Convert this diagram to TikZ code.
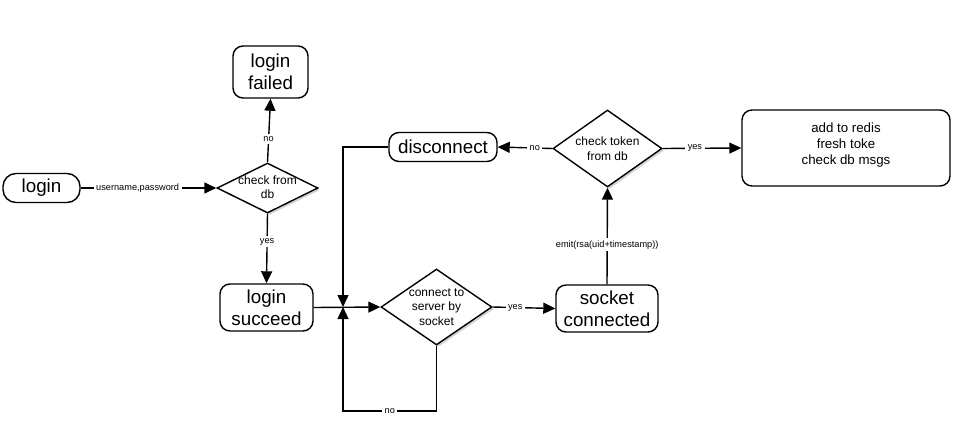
\documentclass[tikz,border=0pt]{standalone}
\usepackage{fontspec}
\setmainfont{Liberation Sans}
\usetikzlibrary{shapes.geometric,arrows.meta,shadows}
\begin{document}
\begin{tikzpicture}[x=1pt,y=-1pt,
 box/.style={draw, line width=1.4pt, rounded corners=10pt, font=\fontsize{18.8}{22}\selectfont, align=center, inner sep=0pt, fill=white},
 dia/.style={draw, diamond, line width=1.4pt, fill=white, drop shadow={opacity=0.35,shadow xshift=2pt,shadow yshift=-2pt}, inner sep=0pt},
 dtext/.style={align=center, font=\fontsize{12}{14.5}\selectfont, inner sep=0pt},
 lab/.style={fill=white, font=\fontsize{9.2}{11}\selectfont, inner sep=2.5pt},
 arr/.style={line width=1.4pt, -{Triangle[length=12pt,width=11pt]}},
 ln/.style={line width=1.4pt}]
\useasboundingbox (0,0) rectangle (963,426);
% nodes
\node[box, minimum width=77pt, minimum height=29pt, rounded corners=13pt] (login) at (41.5,188) {login};
\node[box, minimum width=75pt, minimum height=52pt] (failed) at (270.5,72) {login\\failed};
\node[dia, minimum width=101pt, minimum height=50pt,
  label={[dtext,yshift=1pt]center:check from\\db}] (check) at (267.5,188) {};
\node[box, minimum width=93pt, minimum height=47pt] (succeed) at (266.5,307.5) {login\\succeed};
\node[dia, minimum width=111pt, minimum height=76pt,
  label={[dtext]center:connect to\\server by\\socket}] (connect) at (436.5,307) {};
\node[box, minimum width=102pt, minimum height=47pt] (socket) at (607,308.5) {socket\\connected};
\node[dia, minimum width=109pt, minimum height=77pt,
  label={[dtext]center:check token\\from db}] (token) at (607.5,148.5) {};
\node[box, minimum width=108pt, minimum height=29pt] (disc) at (443,147) {disconnect};
\node[box, minimum width=208pt, minimum height=76pt,
  label={[dtext,anchor=north,yshift=-13pt,font=\fontsize{13.3}{16}\selectfont]north:add to redis\\fresh toke\\check db msgs}] (redis) at (846,148) {};
\coordinate (j) at (343,307);
\coordinate (loopc) at (343,411);
% edges
\draw[arr] (login.east) -- node[lab, pos=0.42]{username,password} (check.west);
\draw[arr] (check.north) -- node[lab, pos=0.36]{no} (failed.south);
\draw[arr] (check.south) -- node[lab, pos=0.4]{yes} (succeed.north);
\draw[arr] (succeed.east) -- (connect.west);
\draw[arr] (disc.west) -| (j);
\draw[arr] (connect.south) |- node[lab, pos=0.75]{no} (loopc) -- (j);
\draw[arr] (connect.east) -- node[lab, pos=0.36]{yes} (socket.west);
\draw[arr] (socket.north) -- node[lab, pos=0.41]{emit(rsa(uid+timestamp))} (token.south);
\draw[arr] (token.west) -- node[lab, pos=0.32]{no} (disc.east);
\draw[arr] (token.east) -- node[lab, pos=0.41]{yes} (redis.west);
\end{tikzpicture}
\end{document}
